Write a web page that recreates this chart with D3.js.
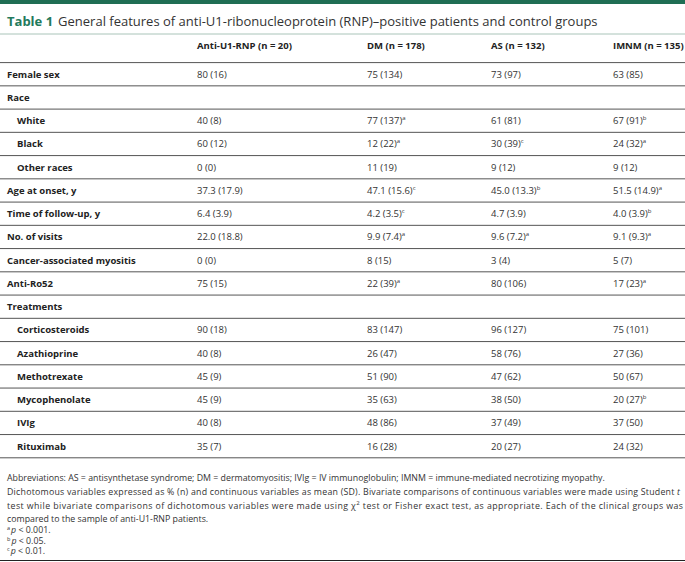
<!DOCTYPE html>
<html>
<head>
<meta charset="utf-8">
<script src="https://cdn.jsdelivr.net/npm/d3@7"></script>
<style>
  body { margin: 0; background: #fff; }
  text { font-family: "Open Sans", sans-serif; }
</style>
</head>
<body>
<svg id="canvas"></svg>
<script>
var w = 685;
var h = 562;

var columns = ["Anti-U1-RNP (n = 20)", "DM (n = 178)", "AS (n = 132)", "IMNM (n = 135)"];
var rowLabels = ["Female sex", "Race", "White", "Black", "Other races", "Age at onset, y",
  "Time of follow-up, y", "No. of visits", "Cancer-associated myositis", "Anti-Ro52",
  "Treatments", "Corticosteroids", "Azathioprine", "Methotrexate", "Mycophenolate", "IVIg", "Rituximab"];
var subRow = [0, 0, 1, 1, 1, 0, 0, 0, 0, 0, 0, 1, 1, 1, 1, 1, 1];
// "^x" marks a significance superscript
var antiU1 = ["80 (16)", "", "40 (8)", "60 (12)", "0 (0)", "37.3 (17.9)", "6.4 (3.9)", "22.0 (18.8)",
  "0 (0)", "75 (15)", "", "90 (18)", "40 (8)", "45 (9)", "45 (9)", "40 (8)", "35 (7)"];
var dm = ["75 (134)", "", "77 (137)^a", "12 (22)^a", "11 (19)", "47.1 (15.6)^c", "4.2 (3.5)^c", "9.9 (7.4)^a",
  "8 (15)", "22 (39)^a", "", "83 (147)", "26 (47)", "51 (90)", "35 (63)", "48 (86)", "16 (28)"];
var as = ["73 (97)", "", "61 (81)", "30 (39)^c", "9 (12)", "45.0 (13.3)^b", "4.7 (3.9)", "9.6 (7.2)^a",
  "3 (4)", "80 (106)", "", "96 (127)", "58 (76)", "47 (62)", "38 (50)", "37 (49)", "20 (27)"];
var imnm = ["63 (85)", "", "67 (91)^b", "24 (32)^a", "9 (12)", "51.5 (14.9)^a", "4.0 (3.9)^b", "9.1 (9.3)^a",
  "5 (7)", "17 (23)^a", "", "75 (101)", "27 (36)", "50 (67)", "20 (27)^b", "37 (50)", "24 (32)"];
var footNotes = [
  "a p < 0.001.",
  "b p < 0.05.",
  "c p < 0.01."
];

var svg = d3.select("#canvas")
  .attr("width", w)
  .attr("height", h)
  .attr("viewBox", [0, 0, w, h]);

// top bar + title
svg.append("rect").attr("x", 0).attr("y", 0).attr("width", w).attr("height", 4).attr("fill", "#1f6e54");
var title = svg.append("text").attr("x", 7).attr("y", 26).style("font-size", "13px");
title.append("tspan").attr("fill", "#237a5c").style("font-weight", "bold").text("Table 1");
title.append("tspan").attr("fill", "#333").attr("dx", 5)
  .text("General features of anti-U1-ribonucleoprotein (RNP)–positive patients and control groups");
svg.append("line").attr("x1", 0).attr("x2", w).attr("y1", 34).attr("y2", 34)
  .attr("stroke", "#a9c4b9").attr("stroke-width", 1);

var x = d3.scaleOrdinal().domain(d3.range(5)).range([7, 197, 367, 491, 613]);
var y = d3.scaleBand().domain(d3.range(rowLabels.length)).range([62.6, 457.8]);

// header
svg.selectAll(".head")
  .data(columns)
  .enter()
  .append("text")
  .attr("class", "head")
  .attr("x", (d, i) => x(i + 1))
  .attr("y", 49)
  .style("font-size", "9.5px")
  .style("font-weight", "bold")
  .attr("fill", "#222")
  .text(d => d);

// separators
var lineYs = [y(0)].concat(d3.range(rowLabels.length).map(i => y(i) + y.bandwidth()));
svg.selectAll(".sep")
  .data(lineYs)
  .enter()
  .append("line")
  .attr("class", "sep")
  .attr("x1", 0).attr("x2", w)
  .attr("y1", d => d).attr("y2", d => d)
  .attr("stroke", "#555")
  .attr("stroke-width", 1);

// row labels
svg.selectAll(".lab")
  .data(rowLabels)
  .enter()
  .append("text")
  .attr("class", "lab")
  .attr("x", (d, i) => x(0) + (subRow[i] ? 10 : 0))
  .attr("y", (d, i) => y(i) + y.bandwidth() / 2 + 3.5)
  .style("font-size", "9.5px")
  .style("font-weight", "bold")
  .attr("fill", "#222")
  .text(d => d);

// cell values
var series = [antiU1, dm, as, imnm];
series.forEach(function (vals, c) {
  var cells = svg.selectAll(".cell" + c)
    .data(vals)
    .enter()
    .append("text")
    .attr("class", "cell" + c)
    .attr("x", x(c + 1))
    .attr("y", (d, i) => y(i) + y.bandwidth() / 2 + 3.5)
    .style("font-size", "9.5px")
    .attr("fill", "#333");
  cells.append("tspan").text(d => d.split("^")[0]);
  cells.filter(d => d.indexOf("^") >= 0)
    .append("tspan")
    .attr("dy", -4)
    .style("font-size", "6px")
    .text(d => d.split("^")[1]);
});

// footer
var fy = 481;
var fs = "8.8px";
svg.append("text").attr("x", 7).attr("y", fy).style("font-size", fs).attr("fill", "#333")
  .text("Abbreviations: AS = antisynthetase syndrome; DM = dermatomyositis; IVIg = IV immunoglobulin; IMNM = immune-mediated necrotizing myopathy.");
var l2 = svg.append("text").attr("x", 7).attr("y", fy + 13.8).style("font-size", fs).attr("fill", "#333")
  .attr("textLength", 673).attr("lengthAdjust", "spacing");
l2.append("tspan").text("Dichotomous variables expressed as % (n) and continuous variables as mean (SD). Bivariate comparisons of continuous variables were made using Student ");
l2.append("tspan").style("font-style", "italic").text("t");
var l3 = svg.append("text").attr("x", 7).attr("y", fy + 27.6).style("font-size", fs).attr("fill", "#333")
  .attr("textLength", 676).attr("lengthAdjust", "spacing");
l3.append("tspan").text("test while bivariate comparisons of dichotomous variables were made using χ");
l3.append("tspan").attr("dy", -4).style("font-size", "6px").text("2");
l3.append("tspan").attr("dy", 4).text(" test or Fisher exact test, as appropriate. Each of the clinical groups was");
svg.append("text").attr("x", 7).attr("y", fy + 41.4).style("font-size", fs).attr("fill", "#333")
  .text("compared to the sample of anti-U1-RNP patients.");

footNotes.forEach(function (f, i) {
  var t = svg.append("text").attr("x", 7).attr("y", fy + 52 + i * 10.5).style("font-size", fs).attr("fill", "#333");
  t.append("tspan").attr("dy", -3).style("font-size", "5.5px").text(f[0]);
  t.append("tspan").attr("dy", 3).attr("dx", 1).style("font-style", "italic").text("p");
  t.append("tspan").text(f.slice(3));
});

svg.append("line").attr("x1", 0).attr("x2", w).attr("y1", 560.5).attr("y2", 560.5)
  .attr("stroke", "#222").attr("stroke-width", 1.2);
</script>
</body>
</html>
